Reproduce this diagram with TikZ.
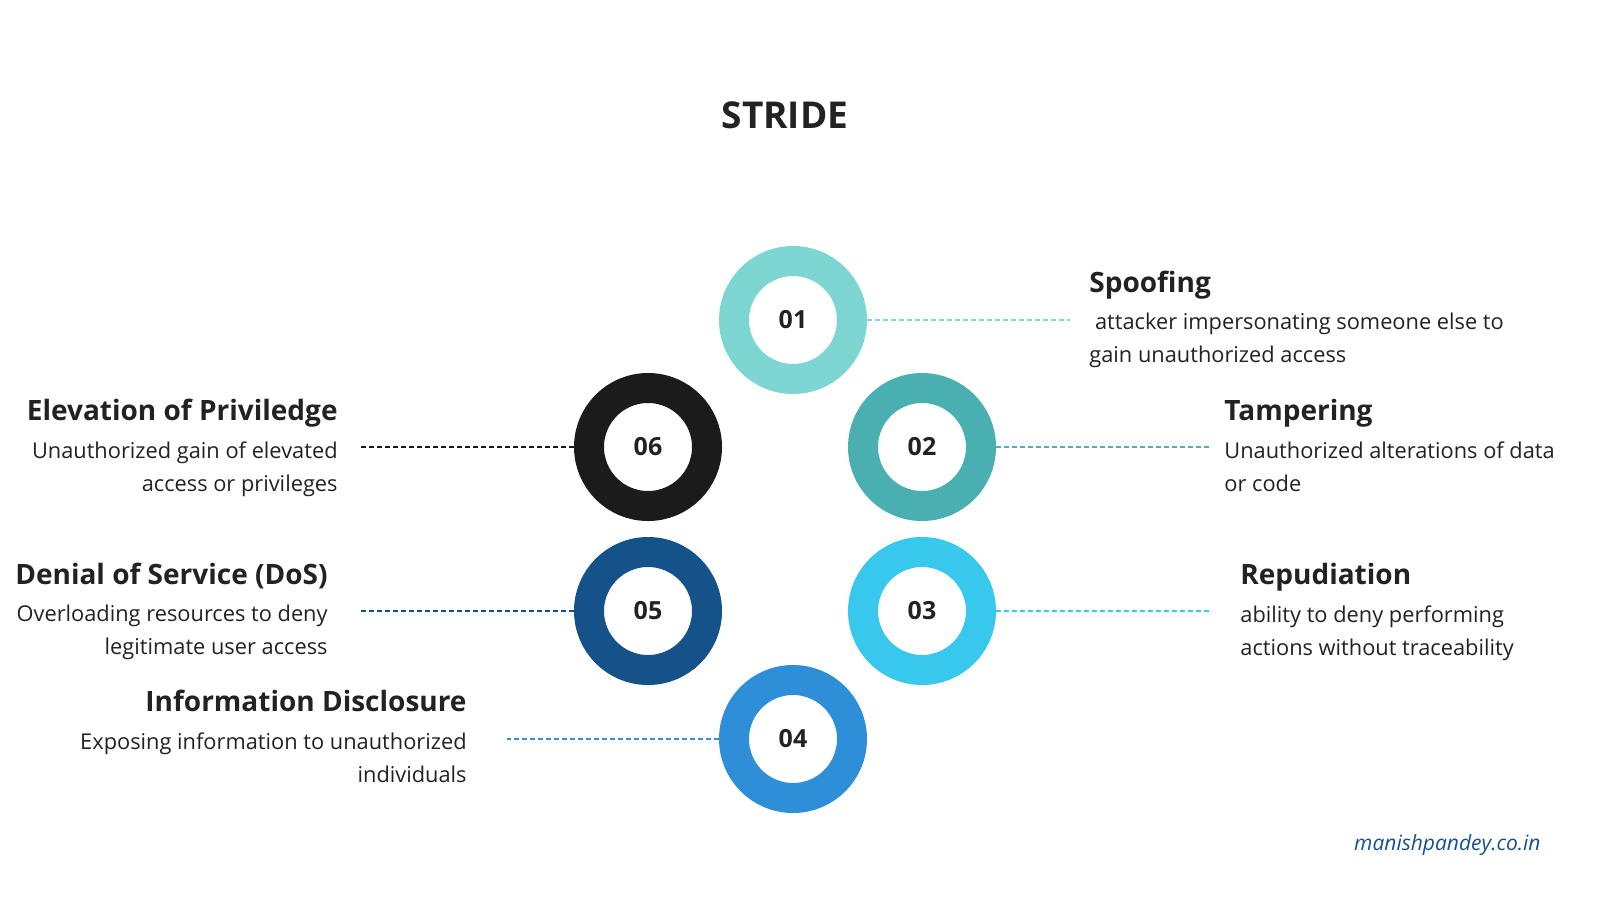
\documentclass[tikz,border=0pt]{standalone}
\usepackage{fontspec}
\setmainfont{Open Sans}
\definecolor{c1}{HTML}{7ED6D2}
\definecolor{c2}{HTML}{4AAFB1}
\definecolor{c3}{HTML}{38C8EE}
\definecolor{c4}{HTML}{2E8FD8}
\definecolor{c5}{HTML}{15528A}
\definecolor{c6}{HTML}{1B1B1B}
\definecolor{txt}{HTML}{222222}
\begin{document}
\begin{tikzpicture}[x=0.5pt,y=-0.5pt,
  ring/.style={circle,draw=#1,line width=15pt,minimum size=59pt,inner sep=0pt,
    font=\fontsize{12.5}{14}\selectfont\bfseries,text=txt},
  conn/.style={draw=#1,dashed,line width=0.8pt,dash pattern=on 2.5pt off 1.5pt},
  head/.style={font=\fontsize{14}{16}\selectfont\bfseries,text=txt,inner sep=0pt},
  body/.style={font=\fontsize{10.9}{16.5}\selectfont,text=txt,inner sep=0pt}]
\useasboundingbox (0,0) rectangle (1600,900);
\node[font=\fontsize{18.5}{20}\selectfont\bfseries,text=txt] (title) at (785,115) {STRIDE};
\node[ring=c1] (n1) at (793,320) {01};
\node[ring=c2] (n2) at (922,447) {02};
\node[ring=c3] (n3) at (922,611) {03};
\node[ring=c4] (n4) at (793,739) {04};
\node[ring=c5] (n5) at (648,611) {05};
\node[ring=c6] (n6) at (648,447) {06};
\coordinate (e1) at (1070,320);
\coordinate (e2) at (1210,447);
\coordinate (e3) at (1210,611);
\coordinate (e4) at (507,739);
\coordinate (e5) at (360,611);
\coordinate (e6) at (360,447);
\draw[conn=c1] (n1) -- (e1);
\draw[conn=c2] (n2) -- (e2);
\draw[conn=c3] (n3) -- (e3);
\draw[conn=c4] (n4) -- (e4);
\draw[conn=c5] (n5) -- (e5);
\draw[conn=c6] (n6) -- (e6);
% right side
\node[head,anchor=base west] (h1) at (1089,292) {Spoofing};
\node[body,anchor=north west,align=left] (b1) at (1089,313) {\ attacker impersonating someone else to\\gain unauthorized access};
\node[head,anchor=base west] (h2) at (1224,420) {Tampering};
\node[body,anchor=north west,align=left] (b2) at (1224,441) {Unauthorized alterations of data\\or code};
\node[head,anchor=base west] (h3) at (1240,584) {Repudiation};
\node[body,anchor=north west,align=left] (b3) at (1240,605) {ability to deny performing\\actions without traceability};
% left side
\node[head,anchor=base east] (h6) at (338,420) {Elevation of Priviledge};
\node[body,anchor=north east,align=right] (b6) at (338,441) {Unauthorized gain of elevated\\access or privileges};
\node[head,anchor=base east] (h5) at (328,584) {Denial of Service (DoS)};
\node[body,anchor=north east,align=right] (b5) at (328,605) {Overloading resources to deny\\legitimate user access};
\node[head,anchor=base east] (h4) at (467,711) {Information Disclosure};
\node[body,anchor=north east,align=right] (b4) at (467,732) {Exposing information to unauthorized\\individuals};
\node[font=\fontsize{10.5}{12}\selectfont\itshape,text=c5,anchor=base east,inner sep=0pt] (wm) at (1541,850) {manishpandey.co.in};
\end{tikzpicture}
\end{document}
